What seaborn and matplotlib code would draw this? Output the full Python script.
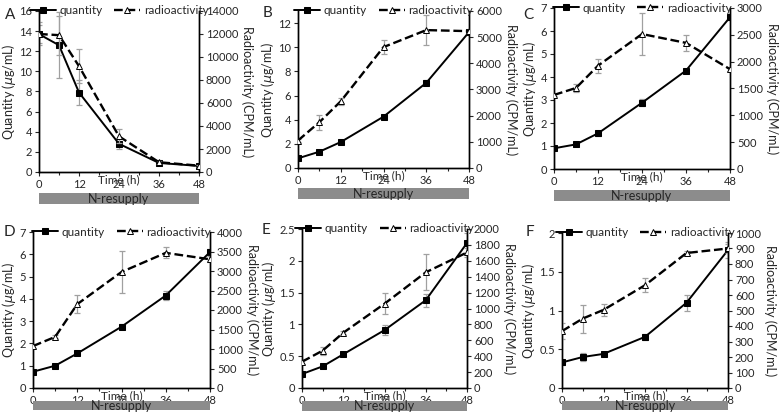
import numpy as np
import matplotlib
matplotlib.use("Agg")
import matplotlib.pyplot as plt
import matplotlib.ticker as mticker
import seaborn as sns

# time points (h)
time = [0, 6, 12, 24, 36, 48]

# panel A
qty_a = [13.7, 12.6, 7.9, 2.8, 0.9, 0.6]
qty_a_err = [0.9, 3.3, 1.2, 0.5, 0.2, 0.2]
rad_a = [12000, 11900, 9200, 3100, 850, 550]
rad_a_err = [1000, 1700, 1500, 600, 150, 100]

# panel B
qty_b = [0.8, 1.35, 2.15, 4.25, 7.05, 11.25]
qty_b_err = [0.1, 0.1, 0.15, 0.15, 0.2, 0.2]
rad_b = [1050, 1750, 2550, 4620, 5270, 5230]
rad_b_err = [60, 280, 130, 280, 580, 60]

# panel C
qty_c = [0.9, 1.07, 1.55, 2.88, 4.28, 6.6]
qty_c_err = [0.05, 0.05, 0.12, 0.15, 0.05, 0.1]
rad_c = [1380, 1510, 1925, 2515, 2350, 1860]
rad_c_err = [20, 80, 130, 400, 150, 30]

# panel D
qty_d = [0.73, 1.0, 1.55, 2.75, 4.15, 6.1]
qty_d_err = [0.05, 0.05, 0.05, 0.1, 0.2, 0.15]
rad_d = [1075, 1310, 2150, 2975, 3465, 3300]
rad_d_err = [50, 40, 230, 540, 140, 80]

# panel E
qty_e = [0.22, 0.34, 0.53, 0.91, 1.38, 2.28]
qty_e_err = [0.02, 0.03, 0.03, 0.08, 0.1, 0.15]
rad_e = [330, 470, 695, 1060, 1455, 1705]
rad_e_err = [30, 50, 20, 135, 225, 60]

# panel F
qty_f = [0.33, 0.4, 0.44, 0.66, 1.1, 1.78]
qty_f_err = [0.03, 0.05, 0.02, 0.04, 0.1, 0.1]
rad_f = [367, 448, 504, 663, 871, 900]
rad_f_err = [50, 90, 40, 45, 15, 30]

panel_letters = ["A", "B", "C", "D", "E", "F"]

sns.set_style("ticks")
plt.rcParams['font.family'] = ['Lato', 'DejaVu Sans']
plt.rcParams['mathtext.fontset'] = 'dejavusans'

W, H = 781, 420
fig = plt.figure(figsize=(W / 100, H / 100), dpi=100)

# axes box in pixels (left, top, right, bottom), left ylim/step, right ylim/step, letter position
panels = [
    (qty_a, qty_a_err, rad_a, rad_a_err, (39, 11, 199, 172), 16, 2, 14000, 2000, (5, 15)),
    (qty_b, qty_b_err, rad_b, rad_b_err, (298, 11, 469, 168), 13, 2, 6000, 1000, (263, 13)),
    (qty_c, qty_c_err, rad_c, rad_c_err, (554, 8, 730, 169), 7, 1, 3000, 500, (523, 15)),
    (qty_d, qty_d_err, rad_d, rad_d_err, (33, 232, 210, 388), 7, 1, 4000, 500, (4, 232)),
    (qty_e, qty_e_err, rad_e, rad_e_err, (302, 229, 467, 388), 2.5, 0.5, 2000, 200, (262, 230)),
    (qty_f, qty_f_err, rad_f, rad_f_err, (562, 233, 728, 388), 2, 0.5, 1000, 100, (526, 232)),
]

fmt = mticker.FuncFormatter(lambda v, p: f"{v:g}")

for i, (q, qe, r, re, box, ymax, ystep, rmax, rstep, lpos) in enumerate(panels):
    l, t, rr, b = box
    ax = fig.add_axes([l / W, 1 - b / H, (rr - l) / W, (b - t) / H])
    ax2 = ax.twinx()

    ax.errorbar(time, q, yerr=qe, fmt='none', ecolor='#a0a0a0', elinewidth=0.9, capsize=2, capthick=0.9, zorder=1)
    sns.lineplot(x=time, y=q, ax=ax, color='black', marker='s', markersize=4.5,
                 markeredgecolor='black', linewidth=1.4, label='quantity', zorder=3)
    ax2.errorbar(time, r, yerr=re, fmt='none', ecolor='#a0a0a0', elinewidth=0.9, capsize=2, capthick=0.9, zorder=1)
    sns.lineplot(x=time, y=r, ax=ax2, color='black', marker='^', markersize=4.5,
                 markerfacecolor='white', markeredgecolor='black', markeredgewidth=0.7,
                 linewidth=1.7, linestyle='--', label='radioactivity', zorder=3)

    ax.set_xlim(0, 48)
    ax.set_ylim(0, ymax)
    ax2.set_ylim(0, rmax)
    ax.set_xticks([0, 12, 24, 36, 48])
    ax.xaxis.set_minor_locator(mticker.MultipleLocator(6))
    ax.yaxis.set_major_locator(mticker.MultipleLocator(ystep))
    ax2.yaxis.set_major_locator(mticker.MultipleLocator(rstep))
    ax.yaxis.set_major_formatter(fmt)
    ax.tick_params(labelsize=8, length=3, width=0.8, pad=2)
    ax.tick_params(axis='x', which='minor', length=2, width=0.8)
    ax2.tick_params(labelsize=8, length=3, width=0.8, pad=2)

    for a in (ax, ax2):
        a.spines['top'].set_visible(False)
        for sp in a.spines.values():
            sp.set_linewidth(1.0)
            sp.set_color('black')

    ax.set_xlabel('')
    ax.set_ylabel(r'Quantity ($\mathit{\mu}$g/mL)', fontsize=9, labelpad=1)
    ax2.set_ylabel('Radioactivity (CPM/mL)', fontsize=9, rotation=270, labelpad=11)
    ax.text(0.5, -0.015, 'Time (h)', transform=ax.transAxes, ha='center', va='top', fontsize=8.5)

    if ax.get_legend() is not None:
        ax.get_legend().remove()
    h1, l1 = ax.get_legend_handles_labels()
    h2, l2 = ax2.get_legend_handles_labels()
    ax2.legend(h1 + h2, l1 + l2, loc='center', bbox_to_anchor=(0.5, 1.0), ncol=2, frameon=False,
               fontsize=8.5, handlelength=2.2, columnspacing=1.0, handletextpad=0.3, borderpad=0)

    # N-resupply bar under the time axis
    if i < 3:
        bar = ax.inset_axes([0, -0.2, 1, 0.07])
    else:
        bar = ax.inset_axes([0, -0.142, 1, 0.058])
    bar.set_facecolor('#8c8c8c')
    bar.set_xticks([])
    bar.set_yticks([])
    for sp in bar.spines.values():
        sp.set_visible(False)
    bar.text(0.5, 0.45, 'N-resupply', ha='center', va='center', fontsize=9, transform=bar.transAxes)

    fig.text(lpos[0] / W, 1 - lpos[1] / H, panel_letters[i], fontsize=11, ha='left', va='center')

fig.savefig('out.png', dpi=100)
